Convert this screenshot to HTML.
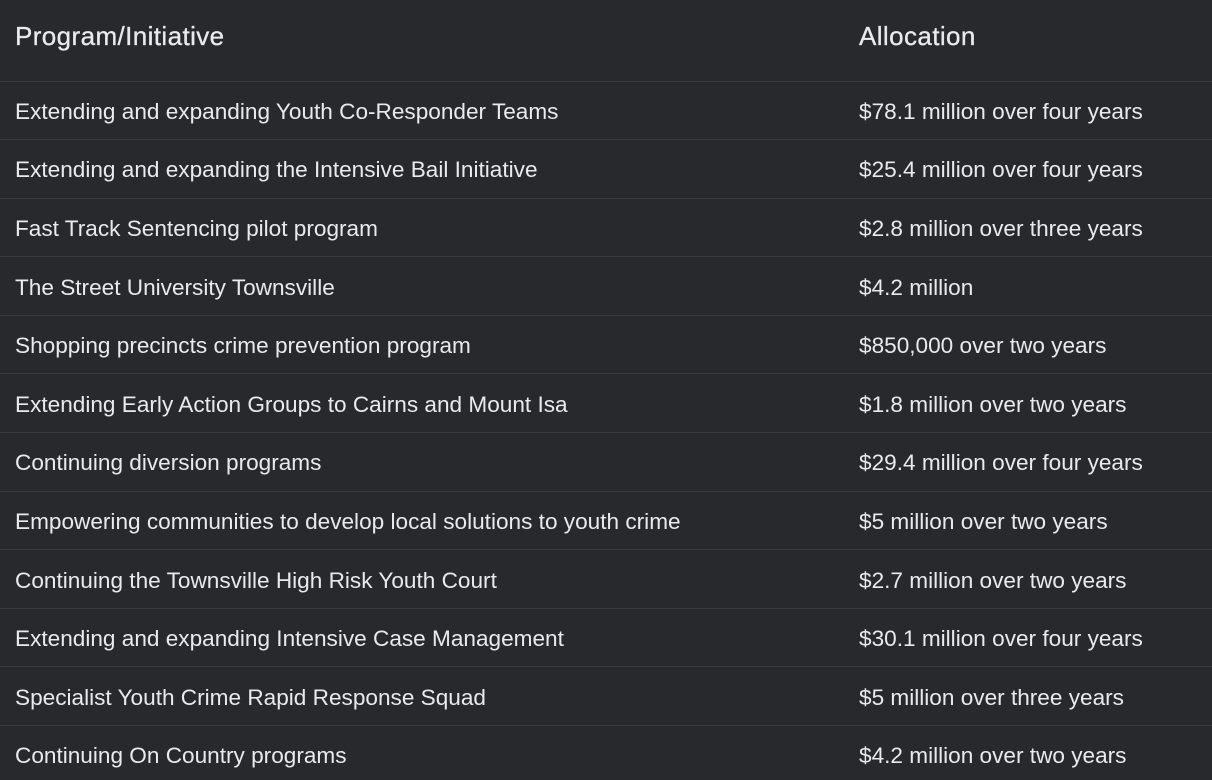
<!DOCTYPE html>
<html><head><meta charset="utf-8"><style>
html,body{margin:0;padding:0;background:#28292c;width:1212px;height:780px;overflow:hidden}
table{border-collapse:collapse;width:1212px;font-family:"Liberation Sans",sans-serif;color:#e8eaed}
th{font-size:26px;font-weight:normal;text-align:left;height:81px;padding:0 0 8px 15px;border-bottom:1px solid #3a3b3e;vertical-align:middle;box-sizing:border-box;letter-spacing:0.4px;-webkit-text-stroke:0.3px #e8eaed}
td{font-size:22.6px;height:58.6px;padding:3px 0 0 15px;border-bottom:1px solid #3a3b3e;box-sizing:border-box;white-space:nowrap}
th:first-child,td:first-child{width:844px}
</style></head><body>
<table>
<thead><tr><th>Program/Initiative</th><th>Allocation</th></tr></thead>
<tbody>
<tr><td>Extending and expanding Youth Co-Responder Teams</td><td>$78.1 million over four years</td></tr>
<tr><td>Extending and expanding the Intensive Bail Initiative</td><td>$25.4 million over four years</td></tr>
<tr><td>Fast Track Sentencing pilot program</td><td>$2.8 million over three years</td></tr>
<tr><td>The Street University Townsville</td><td>$4.2 million</td></tr>
<tr><td>Shopping precincts crime prevention program</td><td>$850,000 over two years</td></tr>
<tr><td>Extending Early Action Groups to Cairns and Mount Isa</td><td>$1.8 million over two years</td></tr>
<tr><td>Continuing diversion programs</td><td>$29.4 million over four years</td></tr>
<tr><td>Empowering communities to develop local solutions to youth crime</td><td>$5 million over two years</td></tr>
<tr><td>Continuing the Townsville High Risk Youth Court</td><td>$2.7 million over two years</td></tr>
<tr><td>Extending and expanding Intensive Case Management</td><td>$30.1 million over four years</td></tr>
<tr><td>Specialist Youth Crime Rapid Response Squad</td><td>$5 million over three years</td></tr>
<tr><td>Continuing On Country programs</td><td>$4.2 million over two years</td></tr>
</tbody></table>
</body></html>
